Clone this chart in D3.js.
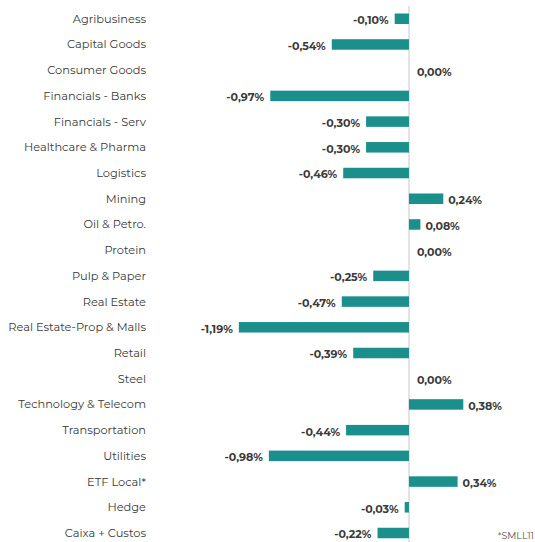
<!DOCTYPE html>
<html>
<head>
<meta charset="utf-8">
<script src="https://cdn.jsdelivr.net/npm/d3@7"></script>
<style>
  html, body { margin: 0; padding: 0; background: #fff; }
  svg { display: block; }
</style>
</head>
<body>
<svg id="chart" width="535" height="542"></svg>
<script>
const categories = [
  "Agribusiness", "Capital Goods", "Consumer Goods", "Financials - Banks",
  "Financials - Serv", "Healthcare & Pharma", "Logistics", "Mining",
  "Oil & Petro.", "Protein", "Pulp & Paper", "Real Estate",
  "Real Estate-Prop & Malls", "Retail", "Steel", "Technology & Telecom",
  "Transportation", "Utilities", "ETF Local*", "Hedge", "Caixa + Custos"
];
const values = [
  -0.10, -0.54, 0.00, -0.97,
  -0.30, -0.30, -0.46, 0.24,
  0.08, 0.00, -0.25, -0.47,
  -1.19, -0.39, 0.00, 0.38,
  -0.44, -0.98, 0.34, -0.03, -0.22
];
const footnote = "*SMLL11";

const data = categories.map((c, i) => ({ cat: c, v: values[i] }));
const svg = d3.select("#chart");
const labelFont = "Montserrat, 'Noto Sans', 'Open Sans', sans-serif";

const x = d3.scaleLinear().domain([-1.4, 0.88]).range([208.8, 534.8]);
const y = d3.scalePoint().domain(categories).range([18.75, 533]);
const barH = 10.5;
const fmt = v => d3.format(".2f")(v).replace("\u2212", "-").replace(".", ",") + "%";

// zero line
svg.append("line")
  .attr("x1", x(0)).attr("x2", x(0))
  .attr("y1", 6).attr("y2", 542)
  .attr("stroke", "#e3e3e3").attr("stroke-width", 2);

// bars
svg.append("g").selectAll("rect").data(data).join("rect")
  .attr("x", d => Math.min(x(0), x(d.v)))
  .attr("y", d => y(d.cat) - barH / 2)
  .attr("width", d => Math.abs(x(d.v) - x(0)))
  .attr("height", barH)
  .attr("fill", "#1b8f8c");

// category labels
svg.append("g").selectAll("text").data(data).join("text")
  .attr("x", 146)
  .attr("y", d => y(d.cat))
  .attr("dy", "0.35em")
  .attr("text-anchor", "end")
  .attr("font-family", labelFont)
  .attr("font-size", 11.4)
  .attr("fill", "#3a3a3a")
  .text(d => d.cat);

// value labels
svg.append("g").selectAll("text").data(data).join("text")
  .attr("x", d => d.v < 0 ? x(d.v) - 6 : (d.v > 0 ? x(d.v) + 5 : x(0) + 8))
  .attr("y", d => y(d.cat) + 1.5)
  .attr("dy", "0.35em")
  .attr("text-anchor", d => d.v < 0 ? "end" : "start")
  .attr("font-family", labelFont)
  .attr("font-weight", "bold")
  .attr("font-size", 11)
  .attr("fill", "#3a3a3a")
  .text(d => fmt(d.v));

svg.append("text")
  .attr("x", 534).attr("y", 536).attr("dy", "0.35em")
  .attr("text-anchor", "end")
  .attr("font-family", labelFont)
  .attr("font-size", 9.5)
  .attr("fill", "#555")
  .text(footnote);
</script>
</body>
</html>
